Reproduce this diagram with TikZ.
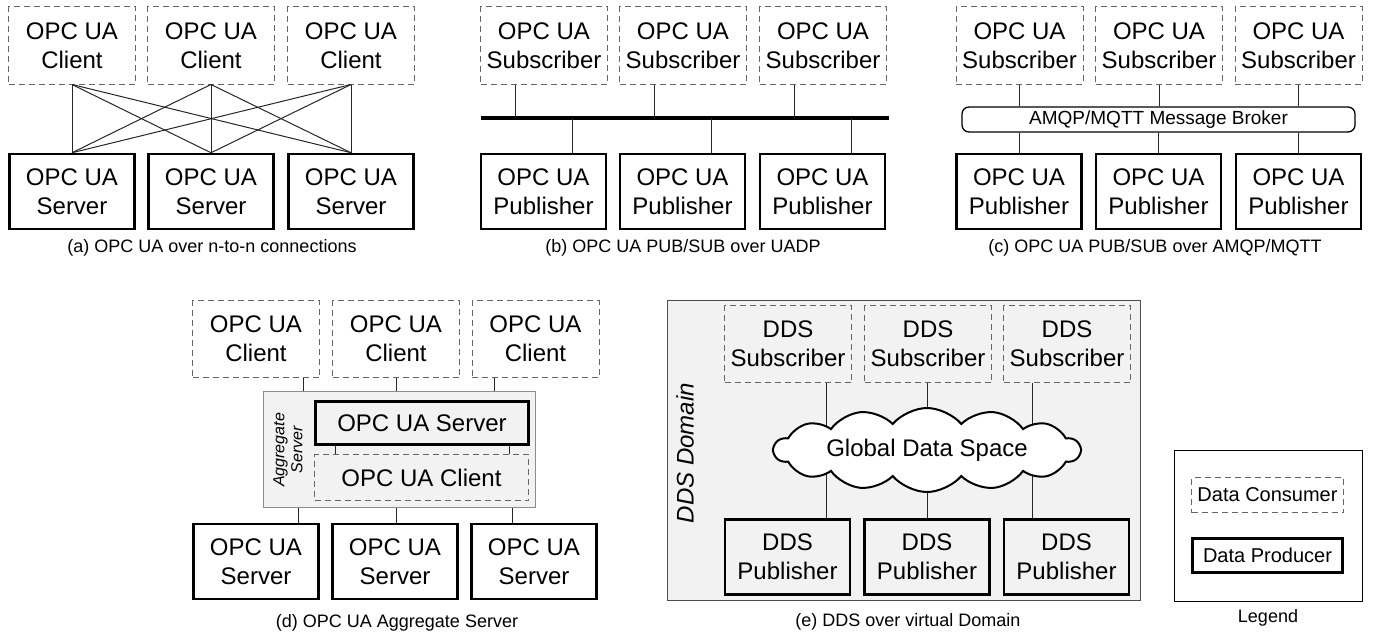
\documentclass[tikz,border=0pt]{standalone}
\usepackage{fontspec}
\setmainfont{Liberation Sans}
\usetikzlibrary{shapes.symbols}

\begin{document}
\begin{tikzpicture}[
    x=1pt, y=-1pt,
    every node/.style = {font=\fontsize{24}{29}\selectfont, align=center, inner sep=0pt},
    consumer/.style   = {draw=black!60, dash pattern=on 6pt off 4pt, line width=1pt, minimum width=127pt, minimum height=77pt},
    producer/.style   = {draw, line width=2.5pt, minimum width=125pt, minimum height=75pt},
    link/.style       = {line width=1pt, black!85},
    caption/.style    = {font=\fontsize{18}{22}\selectfont},
    area/.style       = {fill=black!5, line width=1pt},
  ]
	\useasboundingbox (0,0) rectangle (1376,634);

	% (a) n-zu-n Verbindungen
	\foreach \x [count=\i] in {72,211,351} {
		\node[consumer] (ac\i) at (\x,45.5) {OPC UA\\Client};
		\node[producer] (as\i) at (\x,191.5) {OPC UA\\Server};
	}
	\foreach \i in {1,2,3} \foreach \j in {1,2,3} \draw[link] (ac\i.south) -- (as\j.north);
	\node[caption] (capa) at (212,248) {(a) OPC UA over n-to-n connections};

	% (b) PUB/SUB ueber UADP
	\foreach \x/\p [count=\i] in {544/543.5, 683/682.5, 823/822.5} {
		\node[consumer] (bs\i) at (\x,45.5) {OPC UA\\Subscriber};
		\node[producer] (bp\i) at (\p,191.5) {OPC UA\\Publisher};
	}
	\coordinate (busL) at (481,118);
	\coordinate (busR) at (889,118);
	\draw[line width=4pt] (busL) -- (busR);
	\foreach \i in {1,2,3} {
		\draw[link] ([xshift=-29pt]bs\i.south) -- ([xshift=-29pt]bs\i.south |- busL);
		\draw[link] ([xshift=29pt]bp\i.north) -- ([xshift=29pt]bp\i.north |- busL);
	}
	\node[caption] (capb) at (683,248) {(b) OPC UA PUB/SUB over UADP};

	% (c) PUB/SUB ueber Broker
	\foreach \x/\p [count=\i] in {1019.5/1019, 1159/1158.5, 1298.5/1298.5} {
		\node[consumer] (cs\i) at (\x,45.5) {OPC UA\\Subscriber};
		\node[producer] (cp\i) at (\p,191.5) {OPC UA\\Publisher};
	}
	\node[draw, rounded corners=7pt, line width=1.3pt, minimum width=393pt, minimum height=25pt,
	      font=\fontsize{19}{22}\selectfont] (broker) at (1158.5,119.5) {AMQP/MQTT Message Broker};
	\foreach \i in {1,2,3} {
		\draw[link] (cs\i.south) -- (cs\i.south |- broker.north);
		\draw[link] (cp\i.north) -- (cp\i.north |- broker.south);
	}
	\node[caption] (capc) at (1155,248) {(c) OPC UA PUB/SUB over AMQP/MQTT};

	% (d) Aggregate Server
	\node[area, draw=black!45, minimum width=272pt, minimum height=116pt] (agg) at (399,449) {};
	\node[producer, minimum width=213pt, minimum height=43pt] (aggsrv) at (422,423) {OPC UA Server};
	\node[consumer, minimum width=214pt, minimum height=46pt] (aggcli) at (421.5,477.5) {OPC UA Client};
	\node[rotate=90, font=\fontsize{16}{18}\selectfont\itshape] (agglbl) at (288,450) {Aggregate\\Server};
	\foreach \x/\p [count=\i] in {256/256, 396/395, 535.5/534} {
		\node[consumer] (dc\i) at (\x,339) {OPC UA\\Client};
		\node[producer] (ds\i) at (\p,561.5) {OPC UA\\Server};
	}
	\foreach \i/\a/\b in {1/47/42, 2/0/1, 3/-41.5/-22} {
		\draw[link] ([xshift=\a pt]dc\i.south) -- ([xshift=\a pt]dc\i.south |- agg.north);
		\draw[link] ([xshift=\b pt]ds\i.north) -- ([xshift=\b pt]ds\i.north |- agg.south);
	}
	\foreach \a in {-87,87}
		\draw[link] ([xshift=\a pt]aggsrv.south) -- ([xshift=\a pt]aggsrv.south |- aggcli.north);
	\node[caption] (capd) at (397,623) {(d) OPC UA Aggregate Server};

	% (e) DDS Domain
	\node[area, draw=black!70, minimum width=473pt, minimum height=300pt] (domain) at (903.5,450) {};
	\node[rotate=90, font=\fontsize{24}{29}\selectfont\itshape] (domlbl) at (685,453) {DDS Domain};
	\foreach \x/\p [count=\i] in {788/787.5, 928/927, 1067/1066.5} {
		\node[consumer] (es\i) at (\x,344) {DDS\\Subscriber};
		\node[producer] (ep\i) at (\p,557) {DDS\\Publisher};
	}
	\foreach \i/\a in {1/38, 2/-1, 3/-35}
		\draw[link] ([xshift=\a pt]es\i.south) -- ([xshift=\a pt]es\i.south |- ep\i.north);
	\node[cloud, cloud puffs=14, cloud puff arc=100, cloud ignores aspect, draw, line width=2pt, fill=white,
	      minimum width=306pt, minimum height=84pt] (gds) at (927,450) {Global Data Space};
	\node[caption] (cape) at (908,622) {(e) DDS over virtual Domain};

	% Legende
	\node[draw, line width=1pt, minimum width=188pt, minimum height=151pt] (legend) at (1268,525.5) {};
	\node[consumer, minimum width=152pt, minimum height=35pt, font=\fontsize{20}{24}\selectfont] (lgcons) at (1267.5,495) {Data Consumer};
	\node[producer, minimum width=150pt, minimum height=34pt, font=\fontsize{20}{24}\selectfont] (lgprod) at (1267.5,555.5) {Data Producer};
	\node[caption] (lgcap) at (1268,618) {Legend};
\end{tikzpicture}
\end{document}
